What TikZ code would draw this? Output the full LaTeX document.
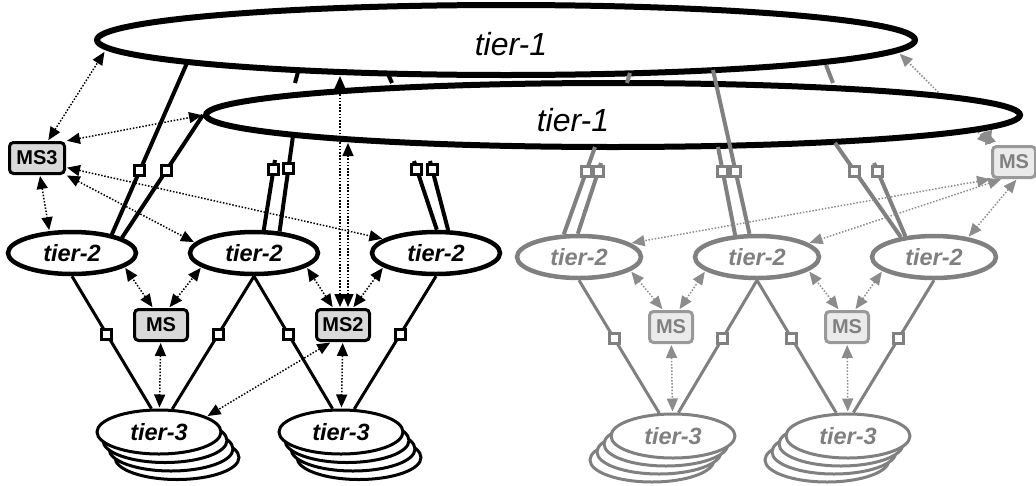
\documentclass[tikz,border=0pt]{standalone}
\usepackage{fontspec}
\setmainfont{Liberation Sans}
\usetikzlibrary{shapes.geometric,arrows.meta}

\begin{document}
\begin{tikzpicture}[x=1pt, y=-1pt,
    tierone/.style={ellipse, draw, fill=white, line width=6pt, inner sep=0pt},
    tierlabel/.style={inner sep=0pt, font=\fontsize{32}{38}\selectfont\itshape},
    tiertwo/.style={ellipse, draw, fill=white, line width=4.5pt, inner sep=0pt, minimum width=128pt, minimum height=42pt, font=\fontsize{23.5}{28}\selectfont\bfseries\itshape},
    tierthree/.style={ellipse, draw, fill=white, line width=3pt, inner sep=0pt, minimum width=124pt, minimum height=44pt, font=\fontsize{23.5}{28}\selectfont\bfseries\itshape},
    msbox/.style={rectangle, rounded corners=4pt, draw, fill=black!15, line width=3pt, inner sep=0pt, minimum width=53pt, minimum height=31pt, font=\fontsize{20}{24}\selectfont\bfseries},
    fadedbox/.style={msbox, draw=black!40, fill=black!8, text=black!50, minimum width=43pt, minimum height=31pt},
    port/.style={rectangle, draw, fill=white, line width=3pt, inner sep=0pt, minimum size=10pt},
    uplink/.style={line width=4pt},
    downlink/.style={line width=3pt},
    mgmt/.style={{Triangle[length=13pt,width=11pt]}-{Triangle[length=13pt,width=11pt]}, line width=1.5pt, dash pattern=on 1.5pt off 1.7pt, shorten <=1pt, shorten >=1pt},
    faded/.style={draw=black!50, text=black!50}
]
\useasboundingbox (0,0) rectangle (1036,485);

% Back tier-1
\node[tierone, minimum width=818pt, minimum height=70pt] (t1back) at (506,40) {};
\node[tierlabel] (t1back-lbl) at (511,44) {tier-1};

% Faded MS at the right, its link to the back ring runs behind the front ring
\node[fadedbox] (gms3) at (1014,162) {MS};
\coordinate (gm-b) at (899,53);
\draw[mgmt, black!45] (gms3.north west) -- (gm-b);

% Front tier-1
\node[tierone, minimum width=814pt, minimum height=64pt] (t1front) at (613,115) {};
\node[tierlabel] (t1front-lbl) at (573,120) {tier-1};

% Second level
\node[tiertwo] (t2a) at (72,253) {tier-2};
\node[tiertwo] (t2b) at (254,253) {tier-2};
\node[tiertwo] (t2c) at (436,253) {tier-2};
\node[tiertwo, faded, minimum width=124pt] (g2a) at (579,257) {tier-2};
\node[tiertwo, faded, minimum width=124pt] (g2b) at (757,257) {tier-2};
\node[tiertwo, faded, minimum width=124pt] (g2c) at (934,257) {tier-2};

% Management stations
\node[msbox, minimum width=55pt] (ms3) at (37,158) {MS3};
\node[msbox] (ms1) at (161,325) {MS};
\node[msbox] (ms2) at (343,325) {MS2};
\node[fadedbox] (gms1) at (671,327) {MS};
\node[fadedbox] (gms2) at (847,327) {MS};

% Third level (stacks)
\foreach \k in {3,2,1} {
  \node[tierthree] (t3a-\k) at ({159+6*\k},{432+8.5*\k}) {};
  \node[tierthree] (t3b-\k) at ({341+6*\k},{432+8.5*\k}) {};
  \node[tierthree, faded] (g3a-\k) at ({673-7*\k},{436+8*\k}) {};
  \node[tierthree, faded] (g3b-\k) at ({848-7*\k},{436+8*\k}) {};
}
\node[tierthree] (t3a) at (159,432) {tier-3};
\node[tierthree] (t3b) at (341,432) {tier-3};
\node[tierthree, faded] (g3a) at (673,436) {tier-3};
\node[tierthree, faded] (g3b) at (848,436) {tier-3};

% Links up to tier-1
\coordinate (e-a1) at (187,63);
\draw[uplink] (t2a.25) -- (e-a1) node[port, pos=.373] (p-a1) {};
\draw[uplink] (t2a.17) -- (t1front.west) node[port, pos=.55] (p-a2) {};
\coordinate (h-b1) at (275,160);
\draw[uplink] (t2b.67) -- (h-b1) node[port, pos=.87] (p-b1) {};
\coordinate (s-b1) at (295,83);
\coordinate (e-b1) at (298,72);
\draw[uplink] (s-b1) -- (e-b1);
\coordinate (e-b2) at (293,136);
\draw[uplink] (t2b.40) -- (e-b2) node[port, pos=.66] (p-b2) {};
\coordinate (h-c1) at (414,161);
\draw[uplink] (t2c.88) -- (h-c1) node[port, pos=.88] (p-c1) {};
\coordinate (s-c1) at (392,83);
\coordinate (e-c1) at (388,74);
\draw[uplink] (s-c1) -- (e-c1);
\coordinate (h-c2) at (430,161);
\draw[uplink] (t2c.62) -- (h-c2) node[port, pos=.88] (p-c2) {};

\coordinate (e-ga1) at (595,147);
\draw[uplink, faded] (g2a.124) -- (e-ga1) node[port, faded, pos=.72] (p-ga1) {};
\coordinate (h-ga2) at (601,163);
\draw[uplink, faded] (g2a.93) -- (h-ga2) node[port, faded, pos=.88] (p-ga2) {};
\coordinate (s-ga2) at (627,83);
\coordinate (e-ga2) at (630,73);
\draw[uplink, faded] (s-ga2) -- (e-ga2);
\coordinate (e-gb1) at (718,147);
\draw[uplink, faded] (g2b.135) -- (e-gb1) node[port, faded, pos=.72] (p-gb1) {};
\coordinate (e-gb2) at (713,70);
\draw[uplink, faded] (g2b.108) -- (e-gb2) node[port, faded, pos=.38] (p-gb2) {};
\coordinate (e-gc1) at (835,143);
\draw[uplink, faded] (g2c.149) -- (e-gc1) node[port, faded, pos=.7] (p-gc1) {};
\coordinate (h-gc2) at (874,163);
\draw[uplink, faded] (g2c.144) -- (h-gc2) node[port, faded, pos=.88] (p-gc2) {};
\coordinate (s-gc2) at (833,83);
\coordinate (e-gc2) at (826,65);
\draw[uplink, faded] (s-gc2) -- (e-gc2);

% Links down to tier-3
\draw[downlink] (t2a.south) -- (t3a.108) node[port, pos=.44] (p-a3) {};
\draw[downlink] (t2b.south) -- (t3a.60) node[port, pos=.44] (p-b3) {};
\draw[downlink] (t2b.south) -- (t3b.110) node[port, pos=.44] (p-b4) {};
\draw[downlink] (t2c.south) -- (t3b.60) node[port, pos=.44] (p-c3) {};
\draw[downlink, faded] (g2a.south) -- (g3a.121) node[port, faded, pos=.44] (p-ga3) {};
\draw[downlink, faded] (g2b.south) -- (g3a.77) node[port, faded, pos=.44] (p-gb3) {};
\draw[downlink, faded] (g2b.south) -- (g3b.117) node[port, faded, pos=.44] (p-gb4) {};
\draw[downlink, faded] (g2c.south) -- (g3b.77) node[port, faded, pos=.44] (p-gc3) {};

% Management links
\coordinate (m3-b) at (105,51);
\draw[mgmt] (ms3) -- (m3-b);
\draw[mgmt] (ms3.north east) -- (t1front.west);
\draw[mgmt] (ms3) -- (t2a.136);
\draw[mgmt] (ms3.south east) -- (t2b.170);
\draw[mgmt] (ms3.342) -- (t2c.165);
\draw[mgmt] (ms1.115) -- (t2a.345);
\draw[mgmt] (ms1.65) -- (t2b.195);
\draw[mgmt] (ms1) -- (t3a);
\draw[mgmt] (ms2.120) -- (t2b.345);
\draw[mgmt] (ms2.60) -- (t2c.195);
\draw[mgmt] (ms2) -- (t3b);
\draw[mgmt] (ms2.235) -- (t3a.18);
\coordinate (m2-b) at (340,75);
\coordinate (m2-f) at (348,142);
\draw[mgmt] (ms2.north -| m2-b) -- (m2-b);
\draw[mgmt] (ms2.north -| m2-f) -- (m2-f);

\coordinate (gm-f) at (986,130);
\draw[mgmt, black!45] (gms3.north west) -- (gm-f);
\draw[mgmt, black!45] (gms3.south west) -- (g2a.15);
\draw[mgmt, black!45] (gms3.235) -- (g2b.15);
\draw[mgmt, black!45] (gms3.280) -- (g2c.30);
\draw[mgmt, black!45] (gms1.115) -- (g2a.345);
\draw[mgmt, black!45] (gms1.65) -- (g2b.195);
\draw[mgmt, black!45] (gms1) -- (g3a);
\draw[mgmt, black!45] (gms2.115) -- (g2b.345);
\draw[mgmt, black!45] (gms2.65) -- (g2c.195);
\draw[mgmt, black!45] (gms2) -- (g3b);

\end{tikzpicture}
\end{document}
